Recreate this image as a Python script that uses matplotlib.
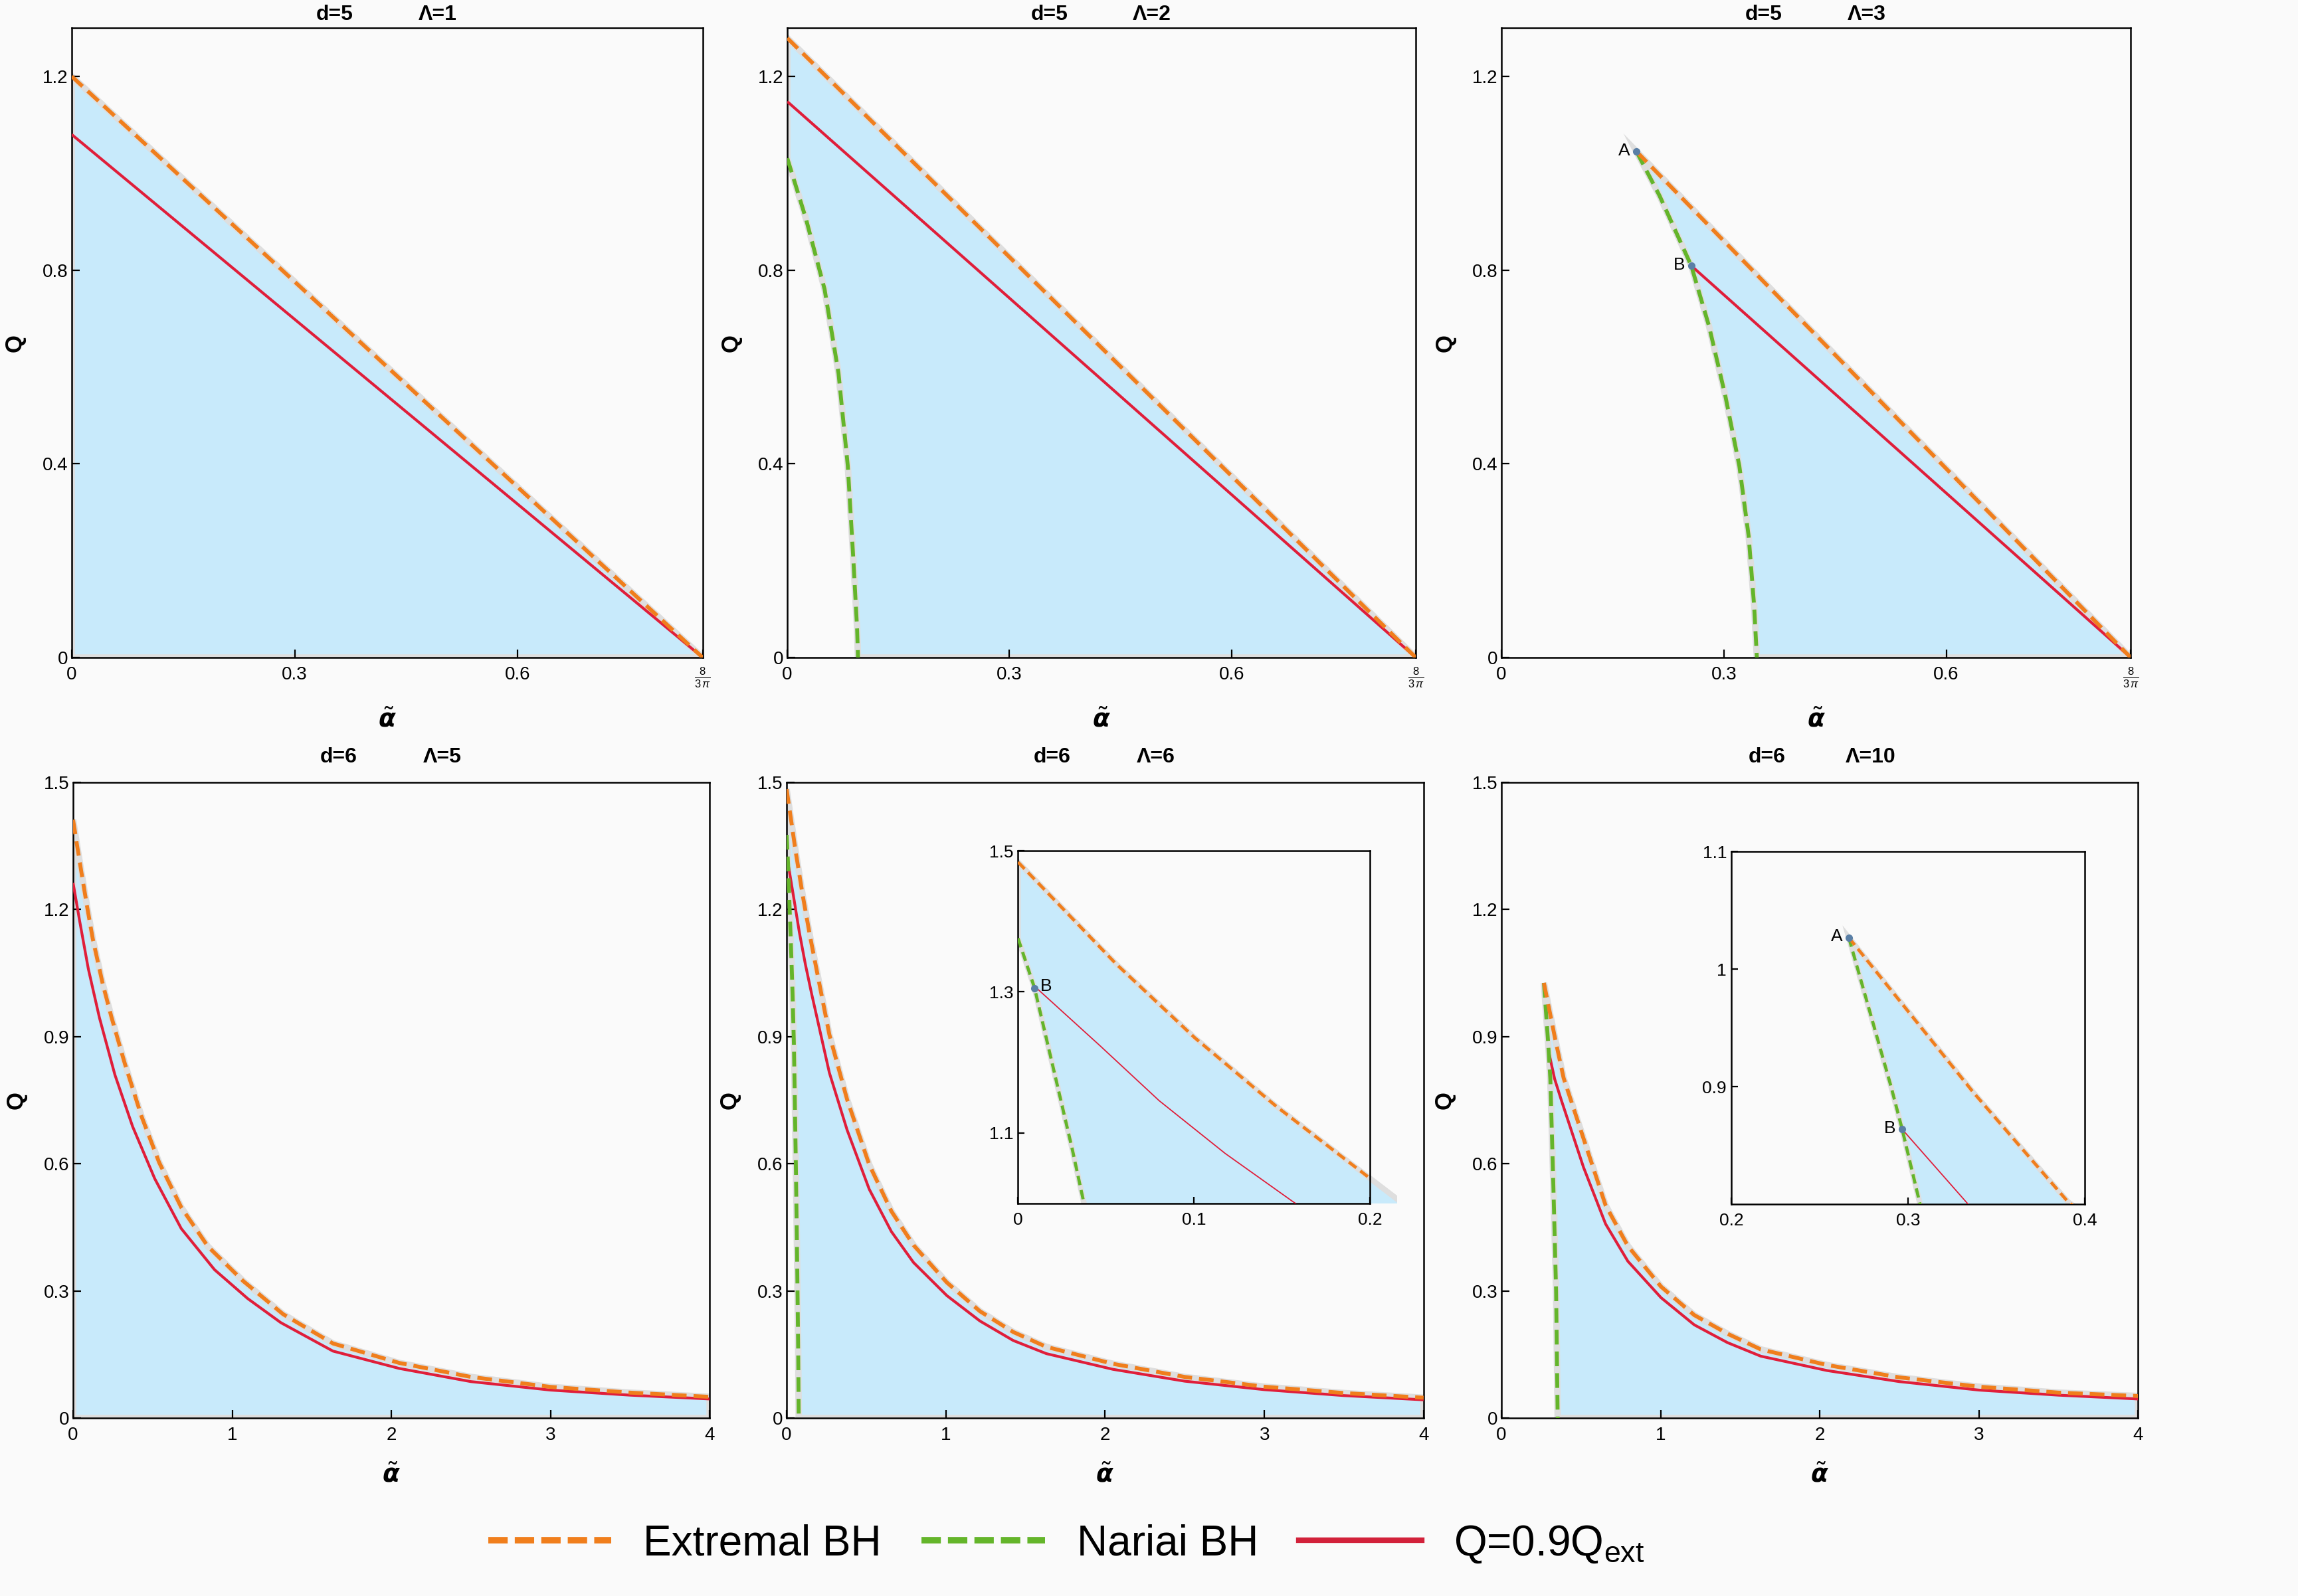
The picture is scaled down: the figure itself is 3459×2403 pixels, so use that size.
import numpy as np
import matplotlib
matplotlib.use("Agg")
import matplotlib.pyplot as plt
from matplotlib.lines import Line2D
from matplotlib.patches import Rectangle

plt.rcParams['font.family'] = ['Liberation Sans', 'DejaVu Sans']
plt.rcParams['mathtext.fontset'] = 'custom'
plt.rcParams['mathtext.rm'] = 'Liberation Sans'
plt.rcParams['mathtext.it'] = 'Liberation Sans:italic'
plt.rcParams['mathtext.bf'] = 'Liberation Sans:bold'
plt.rcParams['mathtext.bfit'] = 'DejaVu Sans:italic:bold'

# ---------------- data ----------------
A_END = 8 / (3 * np.pi)          # right end of alpha range for d = 5

# d=5, Lambda=1
p1_ext_a = [0.0, 0.8488]
p1_ext_q = [1.200, 0.0]
p1_red_a = [0.0, 0.8488]
p1_red_q = [1.080, 0.0]

# d=5, Lambda=2
p2_ext_a = [0.0, 0.8488]
p2_ext_q = [1.279, 0.0]
p2_red_a = [0.0, 0.8488]
p2_red_q = [1.148, 0.0]
p2_nar_a = [0.0, 0.0252, 0.0503, 0.0691, 0.0817, 0.0892, 0.0943, 0.0955]
p2_nar_q = [1.031, 0.906, 0.761, 0.588, 0.396, 0.203, 0.059, 0.0]

# d=5, Lambda=3
p3_ext_a = [0.182, 0.8488]
p3_ext_q = [1.045, 0.0]
p3_red_a = [0.256, 0.8488]
p3_red_q = [0.809, 0.0]
p3_nar_a = [0.182, 0.2132, 0.256, 0.280, 0.302, 0.3208, 0.3334, 0.3408, 0.3445]
p3_nar_q = [1.045, 0.9536, 0.809, 0.684, 0.540, 0.396, 0.251, 0.107, 0.0]
p3_pts_name = ['A', 'B']
p3_pts_a = [0.182, 0.256]
p3_pts_q = [1.045, 0.809]

# d=6, Lambda=5
p4_ext_a = [0.0, 0.0235, 0.054, 0.0889, 0.1237, 0.186, 0.242, 0.3255, 0.43, 0.541,
            0.68, 0.847, 1.07, 1.32, 1.633, 2.05, 2.5, 3.0, 3.5, 4.0]
p4_ext_q = [1.412, 1.355, 1.284, 1.205, 1.131, 1.025, 0.945, 0.836, 0.712, 0.603,
            0.497, 0.405, 0.323, 0.245, 0.176, 0.130, 0.097, 0.0735, 0.060, 0.050]
p4_red_a = [0.0, 0.0403, 0.0958, 0.1654, 0.2628, 0.374, 0.513, 0.68, 0.889, 1.097,
            1.306, 1.633, 2.05, 2.5, 3.0, 3.5, 4.0]
p4_red_q = [1.263, 1.175, 1.060, 0.945, 0.810, 0.688, 0.565, 0.447, 0.350, 0.282,
            0.225, 0.158, 0.117, 0.086, 0.066, 0.054, 0.045]

# d=6, Lambda=6
p5_ext_a = [0.0, 0.0556, 0.1004, 0.1466, 0.1993, 0.2684, 0.3797, 0.5188, 0.658, 0.797,
            1.006, 1.214, 1.423, 1.631, 2.049, 2.5, 3.0, 3.5, 4.0]
p5_ext_q = [1.484, 1.340, 1.235, 1.138, 1.037, 0.905, 0.752, 0.598, 0.488, 0.408,
            0.320, 0.252, 0.203, 0.168, 0.128, 0.097, 0.074, 0.059, 0.048]
p5_red_a = [0.0094, 0.0469, 0.0801, 0.1177, 0.156, 0.2684, 0.3797, 0.5188, 0.658, 0.797,
            1.006, 1.214, 1.423, 1.631, 2.049, 2.5, 3.0, 3.5, 4.0]
p5_red_q = [1.308, 1.223, 1.146, 1.071, 1.003, 0.815, 0.680, 0.540, 0.440, 0.367,
            0.289, 0.229, 0.183, 0.152, 0.115, 0.087, 0.067, 0.053, 0.043]
p5_nar_a = [0.0, 0.0094, 0.0238, 0.031, 0.0375, 0.046, 0.058, 0.067, 0.073, 0.076]
p5_nar_q = [1.376, 1.3055, 1.152, 1.075, 1.0, 0.88, 0.60, 0.35, 0.15, 0.0]
p5_pts_name = ['B']
p5_pts_a = [0.0094]
p5_pts_q = [1.3055]

# d=6, Lambda=10
p6_ext_a = [0.2665, 0.337, 0.3904, 0.515, 0.654, 0.794, 1.0025, 1.211, 1.42, 1.629,
            2.047, 2.5, 3.0, 3.5, 4.0]
p6_ext_q = [1.0267, 0.895, 0.8022, 0.660, 0.502, 0.406, 0.310, 0.243, 0.199, 0.162,
            0.125, 0.096, 0.074, 0.060, 0.052]
p6_red_a = [0.2967, 0.334, 0.376, 0.515, 0.654, 0.794, 1.0025, 1.211, 1.42, 1.629,
            2.047, 2.5, 3.0, 3.5, 4.0]
p6_red_q = [0.8637, 0.800, 0.750, 0.592, 0.458, 0.370, 0.284, 0.220, 0.178, 0.146,
            0.112, 0.086, 0.066, 0.054, 0.045]
p6_nar_a = [0.2665, 0.2904, 0.2967, 0.3068, 0.325, 0.343, 0.353]
p6_nar_q = [1.0267, 0.90, 0.8637, 0.80, 0.56, 0.30, 0.0]
p6_pts_name = ['A', 'B']
p6_pts_a = [0.2665, 0.2967]
p6_pts_q = [1.0267, 0.8637]

titles_d = ['d=5', 'd=5', 'd=5', 'd=6', 'd=6', 'd=6']
titles_L = ['Λ=1', 'Λ=2', 'Λ=3', 'Λ=5', 'Λ=6', 'Λ=10']

top_xticks = [0, 0.3, 0.6, A_END]
top_xticklabels = ['0', '0.3', '0.6', r'$\frac{8}{3\,\pi}$']
top_yticks = [0, 0.4, 0.8, 1.2]
top_yticklabels = ['0', '0.4', '0.8', '1.2']
bot_xticks = [0, 1, 2, 3, 4]
bot_xticklabels = ['0', '1', '2', '3', '4']
bot_yticks = [0, 0.3, 0.6, 0.9, 1.2, 1.5]
bot_yticklabels = ['0', '0.3', '0.6', '0.9', '1.2', '1.5']

legend_labels = ['Extremal BH', 'Nariai BH', r'Q=0.9Q$_{\mathrm{ext}}$']

# ---------------- style ----------------
BG = '#fafafa'
BLUE = '#c8eafb'
EDGE = '#dedede'
ORANGE = '#f07e1c'
GREEN = '#64b52a'
RED = '#e01e3a'
DOT = '#5a7fa6'

fig = plt.figure(figsize=(34.59, 24.03), dpi=100, facecolor=BG)

pos_main = [
    [0.0312, 0.5880, 0.2746, 0.3945],
    [0.3426, 0.5880, 0.2735, 0.3945],
    [0.6534, 0.5880, 0.2738, 0.3945],
    [0.0318, 0.1115, 0.2770, 0.3983],
    [0.3423, 0.1115, 0.2772, 0.3983],
    [0.6534, 0.1115, 0.2770, 0.3983],
]
pos_in5 = [0.4430, 0.2459, 0.1532, 0.2210]
pos_in6 = [0.7534, 0.2455, 0.1538, 0.2210]


def style(ax, fs, padx, pady, tl):
    ax.set_facecolor(BG)
    for s in ax.spines.values():
        s.set_linewidth(1.8)
        s.set_color('black')
    ax.tick_params(direction='in', length=tl, width=1.6, labelsize=fs,
                   top=False, right=False, colors='black')
    ax.tick_params(axis='x', pad=padx)
    ax.tick_params(axis='y', pad=pady)


def draw(ax, ext_a, ext_q, red_a, red_q, nar_a, nar_q, lw_d, lw_r, dash,
         edge_lw, clip=None):
    xs = list(ext_a) + [ext_a[-1]]
    ys = list(ext_q) + [0.0]
    if nar_a is None:
        xs += [ext_a[0]]
        ys += [0.0]
    else:
        xs += list(nar_a)[::-1]
        ys += list(nar_q)[::-1]
    poly = ax.fill(xs, ys, facecolor=BLUE, edgecolor=EDGE, linewidth=edge_lw,
                   zorder=1)[0]
    if clip is not None:
        poly.set_clip_path(Rectangle(clip[0], clip[1], clip[2],
                                     transform=ax.transData))
    ax.plot(red_a, red_q, color=RED, lw=lw_r, zorder=3, solid_capstyle='butt',
            solid_joinstyle='round')
    if nar_a is not None:
        ax.plot(nar_a, nar_q, color=GREEN, lw=lw_d, dashes=dash, zorder=4,
                dash_capstyle='butt', dash_joinstyle='round')
    ax.plot(ext_a, ext_q, color=ORANGE, lw=lw_d, dashes=dash, zorder=5,
            dash_capstyle='butt', dash_joinstyle='round')


def points(ax, names, pa, pq, offsets, fs):
    ax.plot(pa, pq, 'o', color=DOT, ms=8, zorder=6, mec='none')
    for n, a, q, (dx, dy, ha) in zip(names, pa, pq, offsets):
        ax.annotate(n, (a, q), xytext=(dx, dy), textcoords='offset points',
                    ha=ha, va='center', fontsize=fs, zorder=7)


data = [
    (p1_ext_a, p1_ext_q, p1_red_a, p1_red_q, None, None),
    (p2_ext_a, p2_ext_q, p2_red_a, p2_red_q, p2_nar_a, p2_nar_q),
    (p3_ext_a, p3_ext_q, p3_red_a, p3_red_q, p3_nar_a, p3_nar_q),
    (p4_ext_a, p4_ext_q, p4_red_a, p4_red_q, None, None),
    (p5_ext_a, p5_ext_q, p5_red_a, p5_red_q, p5_nar_a, p5_nar_q),
    (p6_ext_a, p6_ext_q, p6_red_a, p6_red_q, p6_nar_a, p6_nar_q),
]

axes = []
for i in range(6):
    ax = fig.add_axes(pos_main[i])
    style(ax, 20, 9, 4, 8.5)
    draw(ax, *data[i], lw_d=4.2, lw_r=3.0, dash=(3.8, 1.8), edge_lw=7)
    top = i < 3
    if top:
        ax.set_xlim(0, A_END)
        ax.set_ylim(0, 1.3)
        ax.set_xticks(top_xticks)
        ax.set_xticklabels(top_xticklabels)
        ax.get_xticklabels()[-1].set_fontsize(17)
        ax.set_yticks(top_yticks)
        ax.set_yticklabels(top_yticklabels)
    else:
        ax.set_xlim(0, 4)
        ax.set_ylim(0, 1.5)
        ax.set_xticks(bot_xticks)
        ax.set_xticklabels(bot_xticklabels)
        ax.set_yticks(bot_yticks)
        ax.set_yticklabels(bot_yticklabels)
    ty = 1.021 if top else 1.040
    ax.text(0.417, ty, titles_d[i], transform=ax.transAxes, ha='center',
            va='center', fontsize=23, fontweight='bold')
    ax.text(0.580, ty, titles_L[i], transform=ax.transAxes, ha='center',
            va='center', fontsize=23, fontweight='bold')
    ax.set_ylabel('Q', fontsize=25, fontweight='bold')
    ax.yaxis.set_label_coords(-0.09, 0.5)
    ax.yaxis.label.set_va('center')
    ax.set_xlabel(r'$\tilde{\boldsymbol{\alpha}}$', fontsize=27)
    ax.xaxis.set_label_coords(0.5, -0.10 if top else -0.09)
    ax.xaxis.label.set_va('center')
    axes.append(ax)

points(axes[2], p3_pts_name, p3_pts_a, p3_pts_q,
       [(-7, 1, 'right'), (-7, 1, 'right')], 19)

# inset for d=6, Lambda=6
ax5 = fig.add_axes(pos_in5)
style(ax5, 19, 9, 5, 7)
draw(ax5, *data[4], lw_d=3.4, lw_r=1.3, dash=(3.0, 1.6), edge_lw=6,
     clip=((0.0, 1.0), 0.2155, 0.5))
ax5.set_xlim(0, 0.2)
ax5.set_ylim(1.0, 1.5)
ax5.set_xticks([0, 0.1, 0.2])
ax5.set_xticklabels(['0', '0.1', '0.2'])
ax5.set_yticks([1.1, 1.3, 1.5])
ax5.set_yticklabels(['1.1', '1.3', '1.5'])
points(ax5, p5_pts_name, p5_pts_a, p5_pts_q, [(6, 2, 'left')], 19)

# inset for d=6, Lambda=10
ax6 = fig.add_axes(pos_in6)
style(ax6, 19, 9, 5, 7)
draw(ax6, *data[5], lw_d=3.4, lw_r=1.3, dash=(3.0, 1.6), edge_lw=6)
ax6.set_xlim(0.2, 0.4)
ax6.set_ylim(0.8, 1.1)
ax6.set_xticks([0.2, 0.3, 0.4])
ax6.set_xticklabels(['0.2', '0.3', '0.4'])
ax6.set_yticks([0.9, 1.0, 1.1])
ax6.set_yticklabels(['0.9', '1', '1.1'])
points(ax6, p6_pts_name, p6_pts_a, p6_pts_q,
       [(-7, 1, 'right'), (-7, 1, 'right')], 19)

# legend
handles = [
    Line2D([], [], color=ORANGE, lw=7, dashes=(3.0, 1.1), dash_capstyle='butt'),
    Line2D([], [], color=GREEN, lw=7, dashes=(3.0, 1.1), dash_capstyle='butt'),
    Line2D([], [], color='#d2213a', lw=6),
]
fig.legend(handles, legend_labels, loc='center', bbox_to_anchor=(0.464, 0.0325),
           ncol=3, frameon=False, fontsize=46, handlelength=2.9,
           handletextpad=0.75, columnspacing=0.95)

fig.savefig('out.png', dpi=100, facecolor=BG)
